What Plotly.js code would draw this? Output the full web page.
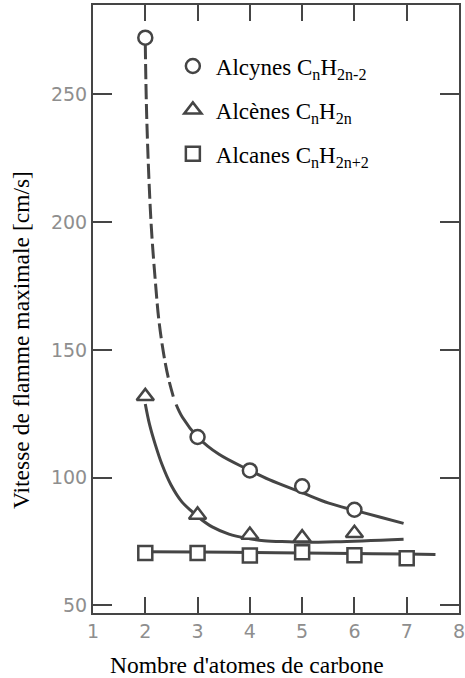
<!DOCTYPE html>
<html>
<head>
<meta charset="utf-8">
<script src="https://cdn.plot.ly/plotly-3.0.1.min.js"></script>
<style>html,body{margin:0;padding:0;background:#fff;}#chart{width:465px;height:678px;}</style>
</head>
<body>
<div id="chart"></div>
<script>
// Measured points (number of carbon atoms vs max flame speed, cm/s)
const carbonAlkynes = [2, 3, 4, 5, 6];
const speedAlkynes = [272.2, 115.9, 102.8, 96.6, 87.4];
const carbonAlkenes = [2, 3, 4, 5, 6];
const speedAlkenes = [131.8, 85.4, 77.5, 76.5, 78.2];
const carbonAlkanes = [2, 3, 4, 5, 6, 7];
const speedAlkanes = [70.5, 70.5, 69.5, 70.8, 69.6, 68.4];

// Fitted curves
const fitAlkynesDashX = [2.0, 2.03, 2.11, 2.20, 2.26, 2.35, 2.44, 2.56];
const fitAlkynesDashY = [269.8, 239.4, 199.9, 175.0, 161.6, 148.6, 139.1, 130.0];
const fitAlkynesX = [2.59, 2.71, 3.0, 3.41, 4.0, 4.37, 5.0, 5.51, 6.0, 6.5, 6.94];
const fitAlkynesY = [128.6, 123.6, 115.9, 109.1, 102.8, 99.2, 94.1, 90.0, 87.2, 84.5, 82.1];
const fitAlkenesX = [2.0, 2.08, 2.19, 2.32, 2.49, 2.70, 2.90, 3.01, 3.28, 3.60, 3.93, 4.27, 4.75, 5.0, 5.64, 6.94];
const fitAlkenesY = [128.8, 120.9, 113.0, 105.1, 97.2, 90.5, 86.6, 84.6, 80.7, 77.9, 76.3, 75.3, 74.9, 74.7, 74.9, 75.9];
const fitAlkanesX = [2, 3, 4, 5, 6, 7, 7.55];
const fitAlkanesY = [71.0, 70.9, 70.7, 70.5, 70.3, 70.1, 69.9];

const names = [
  'Alcynes C<sub>n</sub>H<sub>2n-2</sub>',
  'Alcènes C<sub>n</sub>H<sub>2n</sub>',
  'Alcanes C<sub>n</sub>H<sub>2n+2</sub>'
];
const xTicks = [1, 2, 3, 4, 5, 6, 7, 8];
const yTicks = [50, 100, 150, 200, 250];
const xTitle = "Nombre d'atomes de carbone";
const yTitle = 'Vitesse de flamme maximale [cm/s]';

const ink = '#454545';
const lineStyle = {color: ink, width: 3, shape: 'spline', smoothing: 1};

function curve(x, y, dash) {
  return {x: x, y: y, type: 'scatter', mode: 'lines', showlegend: false, hoverinfo: 'skip',
          line: Object.assign({}, lineStyle, dash ? {dash: dash} : {})};
}
function pts(x, y, symbol, name, group, size) {
  return {x: x, y: y, type: 'scatter', mode: 'markers', name: name, legendgroup: group,
          marker: {symbol: symbol, size: size, color: '#ffffff', line: {color: ink, width: 2.5}}};
}

const data = [
  curve(fitAlkynesDashX, fitAlkynesDashY, '15px,5px'),
  curve(fitAlkynesX, fitAlkynesY),
  curve(fitAlkenesX, fitAlkenesY),
  curve(fitAlkanesX, fitAlkanesY),
  pts(carbonAlkynes, speedAlkynes, 'circle', names[0], 'g1', 14),
  pts(carbonAlkenes, speedAlkenes, 'triangle-up', names[1], 'g2', 15),
  pts(carbonAlkanes, speedAlkanes, 'square', names[2], 'g3', 14)
];

const serif = 'Liberation Serif, Times New Roman, serif';
const tickFont = {family: 'DejaVu Sans, sans-serif', size: 19, color: '#8e8e8e'};
const layout = {
  width: 465, height: 678,
  margin: {l: 93, r: 6, t: 5, b: 65},
  paper_bgcolor: '#ffffff', plot_bgcolor: '#ffffff',
  xaxis: {
    range: [1, 8], tickvals: xTicks, ticktext: xTicks.map(String),
    ticks: 'inside', ticklen: 16, tickwidth: 2, tickcolor: ink,
    showline: true, linewidth: 2, linecolor: ink, mirror: 'allticks',
    showgrid: false, zeroline: false, tickfont: tickFont, ticklabeloverflow: 'allow'
  },
  yaxis: {
    range: [47, 285], tickvals: yTicks, ticktext: yTicks.map(String),
    ticks: 'inside', ticklen: 19, tickwidth: 2, tickcolor: ink,
    showline: true, linewidth: 2, linecolor: ink, mirror: 'allticks',
    showgrid: false, zeroline: false, tickfont: tickFont, ticklabeloverflow: 'allow'
  },
  showlegend: true,
  legend: {
    x: 0.21, y: 0.935, xanchor: 'left', yanchor: 'top',
    bgcolor: 'rgba(0,0,0,0)', tracegroupgap: 11, traceorder: 'grouped', itemwidth: 36,
    font: {family: serif, size: 23, color: '#000'}
  },
  annotations: [
    {text: xTitle, xref: 'paper', yref: 'paper', x: (247 - 93) / 366, y: -(665 - 613) / 608,
     xanchor: 'center', yanchor: 'middle', showarrow: false,
     font: {family: serif, size: 23.5, color: '#000'}},
    {text: yTitle, xref: 'paper', yref: 'paper', x: (21 - 93) / 366, y: 1 - (340 - 5) / 608,
     xanchor: 'center', yanchor: 'middle', showarrow: false, textangle: -90,
     font: {family: serif, size: 23.5, color: '#000'}}
  ]
};

Plotly.newPlot('chart', data, layout, {displayModeBar: false, staticPlot: true});
</script>
</body>
</html>
